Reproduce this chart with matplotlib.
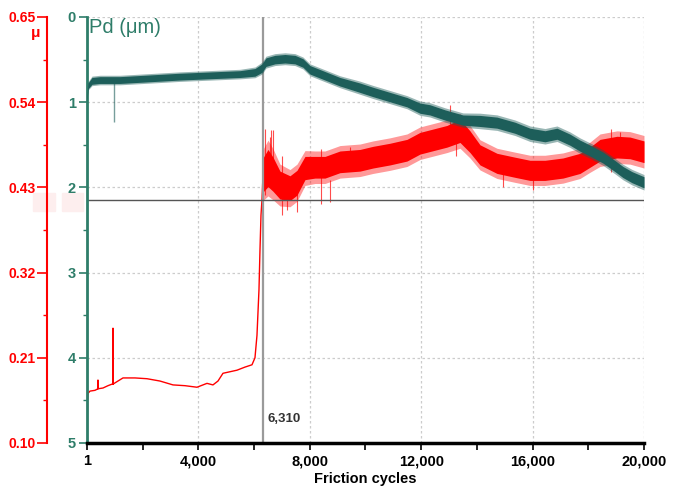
import matplotlib
matplotlib.use('Agg')

import numpy as np
import matplotlib.pyplot as plt
from matplotlib.ticker import FixedLocator, FuncFormatter

# friction coefficient, run-in part (cycles, mu)
mu_run_x = [1, 18, 36, 108, 287, 395, 395, 395, 575, 754, 898, 934, 934, 934,
            1113, 1293, 1724, 2154, 2621, 3088, 3519, 3950, 4309, 4524, 4704,
            4883, 5386, 5673, 5925, 6032, 6104, 6176, 6212, 6248, 6284, 6320]
mu_run_y = [0.100, 0.155, 0.164, 0.167, 0.168, 0.170, 0.181, 0.170, 0.171,
            0.174, 0.176, 0.176, 0.248, 0.176, 0.180, 0.184, 0.184, 0.183,
            0.180, 0.175, 0.174, 0.172, 0.177, 0.175, 0.180, 0.190, 0.194,
            0.198, 0.201, 0.210, 0.239, 0.298, 0.349, 0.394, 0.414, 0.446]

# friction coefficient after breakthrough: mean and scatter half-width
mu_x = [6320, 6499, 6679, 6930, 7289, 7540, 7828, 8187, 8546, 9084, 9803,
        10269, 10880, 11490, 11957, 12388, 12927, 13393, 13752, 14111, 14722,
        15368, 15907, 16445, 17092, 17702, 18061, 18420, 19031, 19497, 20000]
mu_mid = [0.446, 0.455, 0.447, 0.433, 0.429, 0.436, 0.455, 0.456, 0.456,
          0.463, 0.465, 0.469, 0.473, 0.478, 0.487, 0.491, 0.496, 0.503,
          0.489, 0.472, 0.461, 0.456, 0.452, 0.452, 0.455, 0.461, 0.469,
          0.478, 0.482, 0.481, 0.476]
mu_hw = [0.022, 0.024, 0.022, 0.018, 0.016, 0.016, 0.015, 0.014, 0.014,
         0.014, 0.014, 0.014, 0.014, 0.014, 0.014, 0.014, 0.014, 0.015,
         0.014, 0.013, 0.013, 0.013, 0.013, 0.013, 0.013, 0.013, 0.013,
         0.014, 0.014, 0.014, 0.014]
mu_spike_x = [6390, 6560, 6607, 6679, 7000, 7181, 7540, 8400, 8725, 9443,
              13034, 13250, 14937, 16014, 18800, 19138]
mu_spike_lo = [0.420, 0.430, 0.440, 0.430, 0.395, 0.401, 0.398, 0.408, 0.411,
               0.460, 0.490, 0.470, 0.430, 0.427, 0.450, 0.480]
mu_spike_hi = [0.505, 0.495, 0.504, 0.504, 0.470, 0.430, 0.430, 0.480, 0.440,
               0.482, 0.536, 0.525, 0.450, 0.440, 0.505, 0.502]

# penetration depth Pd (um): mean and scatter half-width
pd_x = [1, 36, 180, 467, 1185, 2262, 3339, 4057, 4776, 5494, 6032, 6284,
        6427, 6751, 7110, 7469, 7756, 8007, 8546, 9084, 9803, 10269, 10880,
        11490, 11957, 12316, 12855, 13501, 14111, 14722, 15368, 15907, 16445,
        16876, 17343, 17702, 18133, 18528, 18959, 19246, 19569, 20000]
pd_mid = [0.97, 0.81, 0.75, 0.74, 0.74, 0.72, 0.70, 0.69, 0.68, 0.67, 0.65,
          0.60, 0.53, 0.50, 0.49, 0.50, 0.54, 0.62, 0.69, 0.76, 0.83, 0.88,
          0.94, 1.00, 1.07, 1.09, 1.15, 1.21, 1.22, 1.24, 1.30, 1.37, 1.40,
          1.37, 1.44, 1.51, 1.58, 1.65, 1.75, 1.82, 1.88, 1.94]
pd_hw = [0.02, 0.035, 0.04, 0.04, 0.04, 0.04, 0.04, 0.04, 0.04, 0.04,
         0.045, 0.05, 0.05, 0.05, 0.05, 0.05, 0.05, 0.05, 0.05, 0.05, 0.055,
         0.055, 0.055, 0.055, 0.06, 0.06, 0.06, 0.06, 0.065, 0.065, 0.065,
         0.065, 0.065, 0.065, 0.065, 0.065, 0.065, 0.065, 0.065, 0.065,
         0.065, 0.065]
pd_spike_x = [970]
pd_spike_lo = [0.74]
pd_spike_hi = [1.23]

cursor_x = 6310
cursor_mu = 0.414

x_ticks = [1, 4000, 8000, 12000, 16000, 20000]
mu_ticks = [0.10, 0.21, 0.32, 0.43, 0.54, 0.65]
pd_ticks = [0, 1, 2, 3, 4, 5]

RED = '#ff0000'
TEAL = '#1d5e5a'
TEAL_AX = '#2e7d69'

plt.rcParams['font.family'] = ['Liberation Sans', 'DejaVu Sans']

fig = plt.figure(figsize=(6.91, 4.88), dpi=100)
ax = fig.add_axes([87 / 691, 45 / 488, 557 / 691, 426 / 488])
ax2 = ax.twinx()
ax.set_zorder(2)
ax2.set_zorder(1)
ax.patch.set_visible(False)

# mu axis (red), drawn on the left, outside the Pd axis
ax2.set_ylim(0.10, 0.65)
ax2.yaxis.set_ticks_position('left')
ax2.spines['left'].set_visible(True)
ax2.spines['left'].set_position(('outward', 29))
ax2.spines['left'].set_color(RED)
ax2.spines['left'].set_linewidth(1.5)
for s in ['right', 'top', 'bottom']:
    ax2.spines[s].set_visible(False)
ax2.yaxis.set_major_locator(FixedLocator(mu_ticks))
ax2.yaxis.set_minor_locator(FixedLocator([0.155, 0.265, 0.375, 0.485, 0.595]))
ax2.yaxis.set_major_formatter(FuncFormatter(lambda v, p: '%.2f' % v))
ax2.tick_params(axis='y', which='major', colors=RED, length=7, width=1.2,
                pad=1, labelsize=10)
ax2.tick_params(axis='y', which='minor', colors=RED, length=3, width=1)
for t in ax2.get_yticklabels():
    t.set_fontweight('bold')

# Pd axis (teal), inverted
ax.set_ylim(5, 0)
ax.set_xlim(1, 20000)
for s in ['right', 'top']:
    ax.spines[s].set_visible(False)
ax.spines['left'].set_color(TEAL_AX)
ax.spines['left'].set_linewidth(2)
ax.spines['bottom'].set_linewidth(2.5)
ax.yaxis.set_major_locator(FixedLocator(pd_ticks))
ax.yaxis.set_minor_locator(FixedLocator([0.5, 1.5, 2.5, 3.5, 4.5]))
ax.tick_params(axis='y', which='major', colors=TEAL_AX, length=6, width=1.2,
               pad=2, labelsize=10.5)
ax.tick_params(axis='y', which='minor', colors=TEAL_AX, length=3, width=1)
for t in ax.get_yticklabels():
    t.set_fontweight('bold')

ax.xaxis.set_major_locator(FixedLocator(x_ticks))
ax.xaxis.set_minor_locator(FixedLocator([2000, 6000, 10000, 14000, 18000]))
ax.xaxis.set_major_formatter(FuncFormatter(lambda v, p: '{:,}'.format(int(v))))
ax.tick_params(axis='x', which='both', length=5, width=1.2, labelsize=10.5,
               pad=3)
for t in ax.get_xticklabels():
    t.set_fontweight('bold')
ax.set_xlabel('Friction cycles', fontsize=10.5, fontweight='bold', labelpad=3)

# dotted grid underneath the data
for xv in x_ticks[1:]:
    ax2.axvline(xv, color='#cccccc', lw=0.9, ls=(0, (2, 2)), zorder=0)
for yv in mu_ticks[1:]:
    ax2.axhline(yv, color='#cccccc', lw=0.9, ls=(0, (2, 2)), zorder=0)

# friction coefficient
ax2.plot(mu_run_x, mu_run_y, color=RED, lw=1, zorder=3)
mx = np.array(mu_x)
mm = np.array(mu_mid)
mh = np.array(mu_hw)
ax2.fill_between(mx, mm - 1.5 * mh, mm + 1.5 * mh, color=RED, alpha=0.4,
                 lw=0, zorder=3)
ax2.fill_between(mx, mm - mh, mm + mh, color=RED, lw=0, zorder=3)
ax2.vlines(mu_spike_x, mu_spike_lo, mu_spike_hi, color=RED, lw=0.8,
           alpha=0.7, zorder=3)

# penetration depth
px = np.array(pd_x)
pm = np.array(pd_mid)
ph = np.array(pd_hw)
ax.fill_between(px, pm - 1.4 * ph, pm + 1.4 * ph, color=TEAL, alpha=0.45,
                lw=0, zorder=3)
ax.fill_between(px, pm - ph, pm + ph, color=TEAL, lw=0, zorder=3)
ax.vlines(pd_spike_x, pd_spike_lo, pd_spike_hi, color=TEAL, lw=1,
          alpha=0.6, zorder=3)

# cursor lines
ax2.axvline(cursor_x, color='#9a9a9a', lw=1.6, zorder=4)
ax2.axhline(cursor_mu, color='#555555', lw=1, zorder=4)
ax.text(cursor_x + 180, 4.72, '{:,}'.format(cursor_x), fontsize=9.5,
        fontweight='bold', color='#333333', ha='left', va='center')

# readout boxes at the cursor height on both axes
fig.patches.append(plt.Rectangle((33 / 691, 1 - 211 / 488), 22 / 691, 18 / 488,
                                 transform=fig.transFigure, color='#fdeeee',
                                 zorder=0))
fig.patches.append(plt.Rectangle((62 / 691, 1 - 211 / 488), 21 / 691, 18 / 488,
                                 transform=fig.transFigure, color='#fdeeee',
                                 zorder=0))

fig.text(36 / 691, 1 - 33 / 488, 'μ', color=RED, fontsize=11,
         ha='center', va='center', fontweight='bold')
ax.text(0.004, 0.997, 'Pd (μm)', transform=ax.transAxes, color=TEAL_AX,
        fontsize=14.5, ha='left', va='top')

fig.savefig('out.png', dpi=100)
